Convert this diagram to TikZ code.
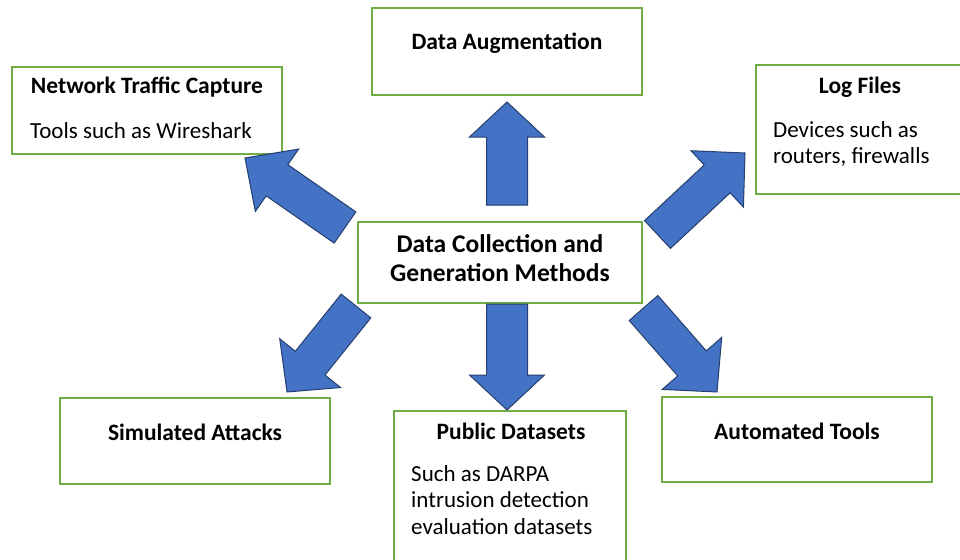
\documentclass[tikz,border=0pt]{standalone}
\usepackage{fontspec}
\setmainfont{Carlito}
\usetikzlibrary{calc}

\definecolor{boxgreen}{HTML}{70AD47}
\definecolor{arrowblue}{HTML}{4472C4}
\definecolor{arrowedge}{HTML}{253F6E}

\tikzset{
  box/.style={draw=boxgreen, line width=1.4pt, fill=white},
  title/.style={font=\bfseries\fontsize{23.5}{28}\selectfont, inner sep=0pt},
  body/.style={font=\fontsize{23}{26.5}\selectfont, align=left, anchor=north west, inner sep=0pt},
  blockarrow/.style={fill=arrowblue, draw=arrowedge, line width=1pt, line join=miter},
}

% Block arrow from tail centre #1 to tip #2;
% #3 shaft half-width, #4 head half-width, #5 head length
\newcommand\blockarrow[5]{%
  \draw[blockarrow]
    ($(#1)!#3!-90:(#2)$) --
    ($(#2)!#5!(#1)!#3!-90:(#2)$) --
    ($(#2)!#5!(#1)!#4!-90:(#2)$) --
    (#2) --
    ($(#2)!#5!(#1)!#4!90:(#2)$) --
    ($(#2)!#5!(#1)!#3!90:(#2)$) --
    ($(#1)!#3!90:(#2)$) -- cycle;
}

\begin{document}
\begin{tikzpicture}[x=1pt, y=-1pt]
  \useasboundingbox (0,0) rectangle (960,559);
  \clip (0,0) rectangle (960,559);

  % boxes
  \draw[box] (372,8) rectangle (642,95);
  \node[title] (aug) at (507,43) {Data Augmentation};

  \draw[box] (12,67) rectangle (282,154);
  \node[title] (net) at (147,87) {Network Traffic Capture};
  \node[body] (netb) at (30,122) {Tools such as Wireshark};

  \draw[box] (756,65) rectangle (970,194);
  \node[title] (log) at (860,87) {Log Files};
  \node[body] (logb) at (773,121) {Devices such as\\routers, firewalls};

  \draw[box] (358,222) rectangle (642,303);
  \node[title, font=\bfseries\fontsize{25.5}{29}\selectfont, align=center] (ctr) at (500,258)
    {Data Collection and\\Generation Methods};

  \draw[box] (60,398) rectangle (330,484);
  \node[title] (sim) at (195,432) {Simulated Attacks};

  \draw[box] (394,411) rectangle (626,575);
  \node[title] (pub) at (511,431) {Public Datasets};
  \node[body] (pubb) at (411,465) {Such as DARPA\\intrusion detection\\evaluation datasets};

  \draw[box] (662,397) rectangle (932,482);
  \node[title] (auto) at (797,431) {Automated Tools};

  % arrow end points
  \coordinate (upT) at (507,205);   \coordinate (upP) at (507,102);
  \coordinate (dnT) at (507,304);   \coordinate (dnP) at (507,410);
  \coordinate (ulT) at (345,227.5); \coordinate (ulP) at (245,158);
  \coordinate (urT) at (657.5,234.5); \coordinate (urP) at (745,153);
  \coordinate (llT) at (356,306);   \coordinate (llP) at (287,392);
  \coordinate (lrT) at (643.5,308); \coordinate (lrP) at (717,392);

  \blockarrow{upT}{upP}{20.5pt}{37.5pt}{35pt}
  \blockarrow{dnT}{dnP}{20.5pt}{37.5pt}{35pt}
  \blockarrow{ulT}{ulP}{19pt}{38pt}{39pt}
  \blockarrow{urT}{urP}{19pt}{38.5pt}{38pt}
  \blockarrow{llT}{llP}{19pt}{39pt}{37pt}
  \blockarrow{lrT}{lrP}{19pt}{39.5pt}{38pt}
\end{tikzpicture}
\end{document}
